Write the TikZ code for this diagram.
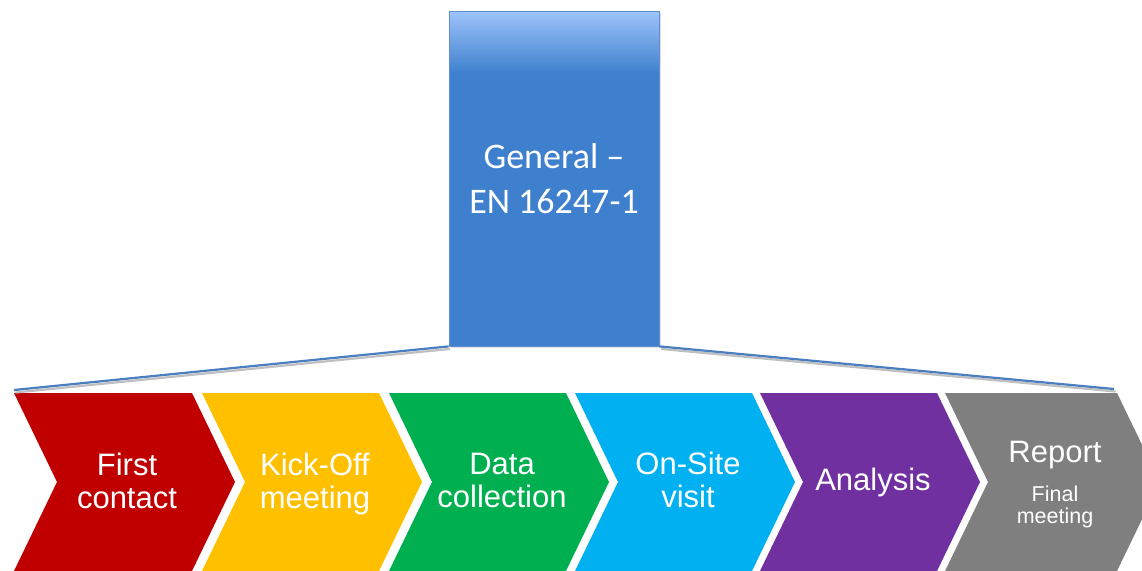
\documentclass[tikz,border=0pt]{standalone}
\usepackage{fontspec}
\setmainfont{Liberation Sans}
\newfontfamily\calibrifont{Carlito}
\usetikzlibrary{shadows}
\definecolor{boxblue}{HTML}{3E80CD}
\definecolor{boxtop}{HTML}{9DC3FA}
\definecolor{boxedge}{HTML}{5F8FCF}
\definecolor{linkblue}{HTML}{4A7EBF}
\definecolor{cRed}{HTML}{C00000}
\definecolor{cYellow}{HTML}{FFC000}
\definecolor{cGreen}{HTML}{00B050}
\definecolor{cCyan}{HTML}{00B0F0}
\definecolor{cPurple}{HTML}{7030A0}
\definecolor{cGray}{HTML}{7F7F7F}
\newcommand\chevshape[3]{%
  \fill[#3] (#1,393) -- ++(#2,0) -- ++(43,89) -- ++(-43,89) -- ++(-#2,0) -- ++(43,-89) -- cycle;}
\begin{document}
\begin{tikzpicture}[x=1pt,y=-1pt,
  lbl/.style={text=white, align=center, inner sep=0pt,
    font=\fontsize{31}{33}\selectfont},
  sublbl/.style={text=white, align=center, inner sep=0pt,
    font=\fontsize{21.5}{22}\selectfont},
  genbox/.style={draw=boxedge, line width=0.8pt, fill=boxblue,
    minimum width=210pt, minimum height=335pt, inner sep=0pt,
    text=white, align=center, font=\calibrifont\fontsize{36}{45}\selectfont,
    drop shadow={opacity=0.25, shadow xshift=2pt, shadow yshift=-2pt},
    path picture={
      \foreach \i in {0,...,31}{
        \pgfmathsetmacro\pct{100-\i*100/31}
        \fill[boxtop!\pct!boxblue]
          ([yshift=-2*\i pt]path picture bounding box.north west) rectangle
          ([yshift=-2*\i pt-2.3pt]path picture bounding box.north east);}}},
  conn/.style={draw=linkblue, line width=2.2pt},
  connshadow/.style={draw=black!25, line width=2.2pt}]
\useasboundingbox (0,0) rectangle (1142,570);
\clip (0,0) rectangle (1142,570);

% chevrons
\chevshape{14}{178}{cRed}
\chevshape{202}{177}{cYellow}
\chevshape{389}{177}{cGreen}
\chevshape{575}{177}{cCyan}
\chevshape{760}{177}{cPurple}
\chevshape{945}{172}{cGray}

\node[lbl] (t1) at (127,480.5) {First\\contact};
\node[lbl] (t2) at (315,483.5) {Kick-Off\\meeting};
\node[lbl] (t3) at (502,480.5) {Data\\collection};
\node[lbl] (t4) at (688,480) {On-Site\\visit};
\node[lbl] (t5) at (873,482) {Analysis};
\node[lbl, anchor=base] (t6) at (1055,462) {Report};
\node[sublbl] (t7) at (1055,507) {Final\\meeting};

% blue box and links
\coordinate (lend) at (14,390);
\coordinate (rend) at (1114,389);
\node[genbox] (general) at (554,178.5) {General –\\EN 16247-1};
\draw[connshadow] ([shift={(1.5,2.5)}]general.south west) -- ([shift={(1.5,2.5)}]lend);
\draw[connshadow] ([shift={(1.5,2.5)}]general.south east) -- ([shift={(1.5,2.5)}]rend);
\draw[conn] (general.south west) -- (lend);
\draw[conn] (general.south east) -- (rend);
\end{tikzpicture}
\end{document}
